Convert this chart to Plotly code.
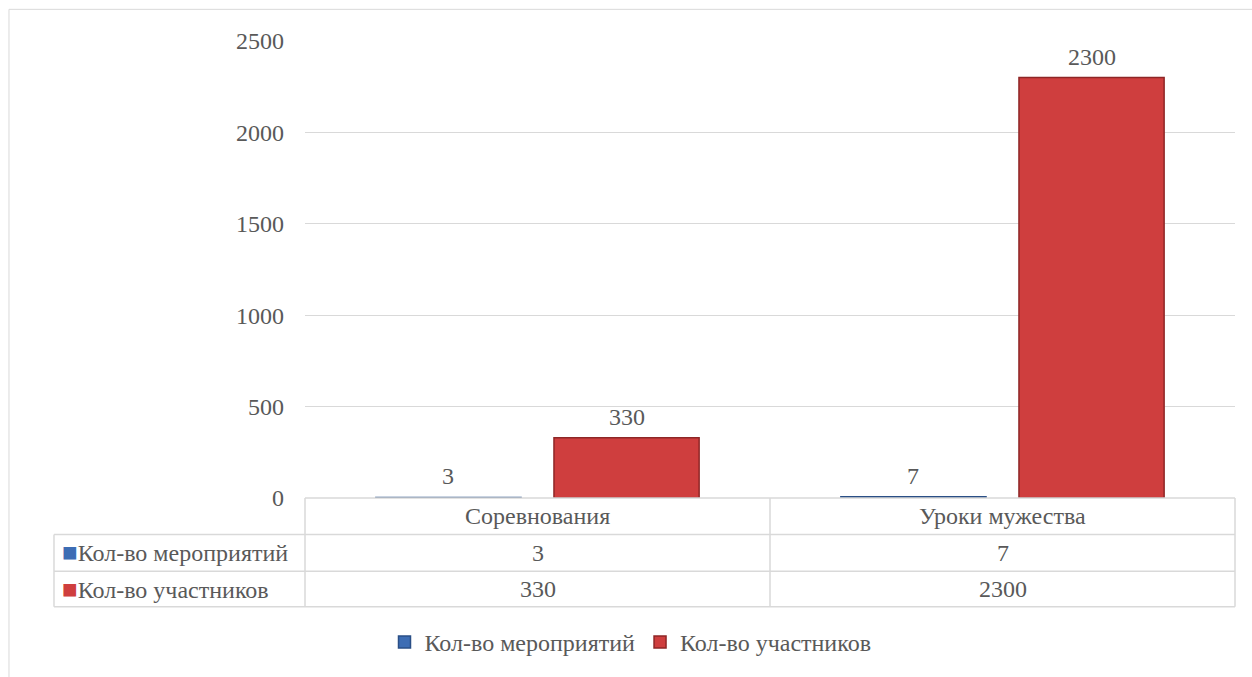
import plotly.graph_objects as go

categories = ["Соревнования", "Уроки мужества"]
series_names = ["Кол-во мероприятий", "Кол-во участников"]
events = [3, 7]
participants = [330, 2300]
y_ticks = [0, 500, 1000, 1500, 2000, 2500]

colors = ["#3D6DB4", "#CF3E3E"]
line_colors = ["#2A4F86", "#8E2626"]
series_values = [events, participants]

FONT = "Liberation Serif"
FS = 24
GRAY = "#595959"
GRID = "#D9D9D9"

fig = go.Figure()
for name, vals, c, lc in zip(series_names, series_values, colors, line_colors):
    fig.add_trace(go.Bar(
        x=categories, y=vals, name=name,
        marker=dict(color=c, line=dict(color=lc, width=1.5)),
        hoverinfo="x+y+name",
    ))

annotations = []
# data labels above bars
offsets = [-0.5 * (1 - 0.234) / 2, 0.5 * (1 - 0.234) / 2]
for si, vals in enumerate(series_values):
    for ci, v in enumerate(vals):
        annotations.append(dict(
            x=ci + offsets[si], y=v, xref="x", yref="y", text=str(v),
            showarrow=False, xanchor="center", yanchor="bottom", yshift=6,
            font=dict(family=FONT, size=FS, color=GRAY)))

# data table geometry (paper coords)
row_y = [0, -0.0801, -0.1602, -0.2381]
left_x = -0.2699
shapes = []
shapes.append(dict(type="line", xref="paper", yref="paper", x0=0, x1=1, y0=row_y[0], y1=row_y[0], line=dict(color=GRID, width=1.5)))
for yy in row_y[1:]:
    shapes.append(dict(type="line", xref="paper", yref="paper", x0=left_x, x1=1, y0=yy, y1=yy, line=dict(color=GRID, width=1.5)))
shapes.append(dict(type="line", xref="paper", yref="paper", x0=left_x, x1=left_x, y0=row_y[1], y1=row_y[3], line=dict(color=GRID, width=1.5)))
for xx in [0, 0.5, 1]:
    shapes.append(dict(type="line", xref="paper", yref="paper", x0=xx, x1=xx, y0=row_y[0], y1=row_y[3], line=dict(color=GRID, width=1.5)))
# outer chart frame
shapes.append(dict(type="rect", xref="paper", yref="paper", x0=-0.3183, x1=1.2, y0=-0.6, y1=1.0693, line=dict(color=GRID, width=1)))

# category header row
for ci, cat in enumerate(categories):
    annotations.append(dict(
        x=(ci + 0.5) / len(categories), y=(row_y[0] + row_y[1]) / 2, xref="paper", yref="paper",
        xanchor="center", yanchor="middle",
        text=cat, showarrow=False, font=dict(family=FONT, size=FS, color=GRAY)))
# series rows
for si, (name, vals) in enumerate(zip(series_names, series_values)):
    ymid = (row_y[si + 1] + row_y[si + 2]) / 2
    annotations.append(dict(
        x=left_x + 0.006, y=ymid, xref="paper", yref="paper", xanchor="left", yanchor="middle",
        text=f'<span style="color:{colors[si]};font-size:26px">■</span>{name}', showarrow=False,
        font=dict(family=FONT, size=FS, color=GRAY)))
    for ci, v in enumerate(vals):
        annotations.append(dict(
            x=(ci + 0.5) / len(categories), y=ymid, xref="paper", yref="paper",
            xanchor="center", yanchor="middle",
            text=str(v), showarrow=False, font=dict(family=FONT, size=FS, color=GRAY)))

fig.update_layout(
    width=1252, height=677,
    margin=dict(l=305, r=17, t=41, b=174),
    paper_bgcolor="white", plot_bgcolor="white",
    barmode="group", bargap=0.234, bargroupgap=0.185,
    font=dict(family=FONT, size=FS, color=GRAY),
    showlegend=True,
    legend=dict(orientation="h", x=0.35, xanchor="center", y=-0.316, yanchor="middle",
                font=dict(family=FONT, size=FS, color=GRAY), itemwidth=30,
                traceorder="normal"),
    xaxis=dict(showticklabels=False, showgrid=False, zeroline=False, showline=False),
    yaxis=dict(range=[0, 2500], tickvals=y_ticks, showgrid=True, gridcolor=GRID, gridwidth=1,
               zeroline=False, showline=False, ticks="", ticklabelstandoff=20,
               tickfont=dict(family=FONT, size=FS, color=GRAY)),
    shapes=shapes, annotations=annotations,
)

fig.write_html("out.html", config={"displayModeBar": False},
               post_script="document.body.style.margin='0';document.body.style.overflow='hidden';")
